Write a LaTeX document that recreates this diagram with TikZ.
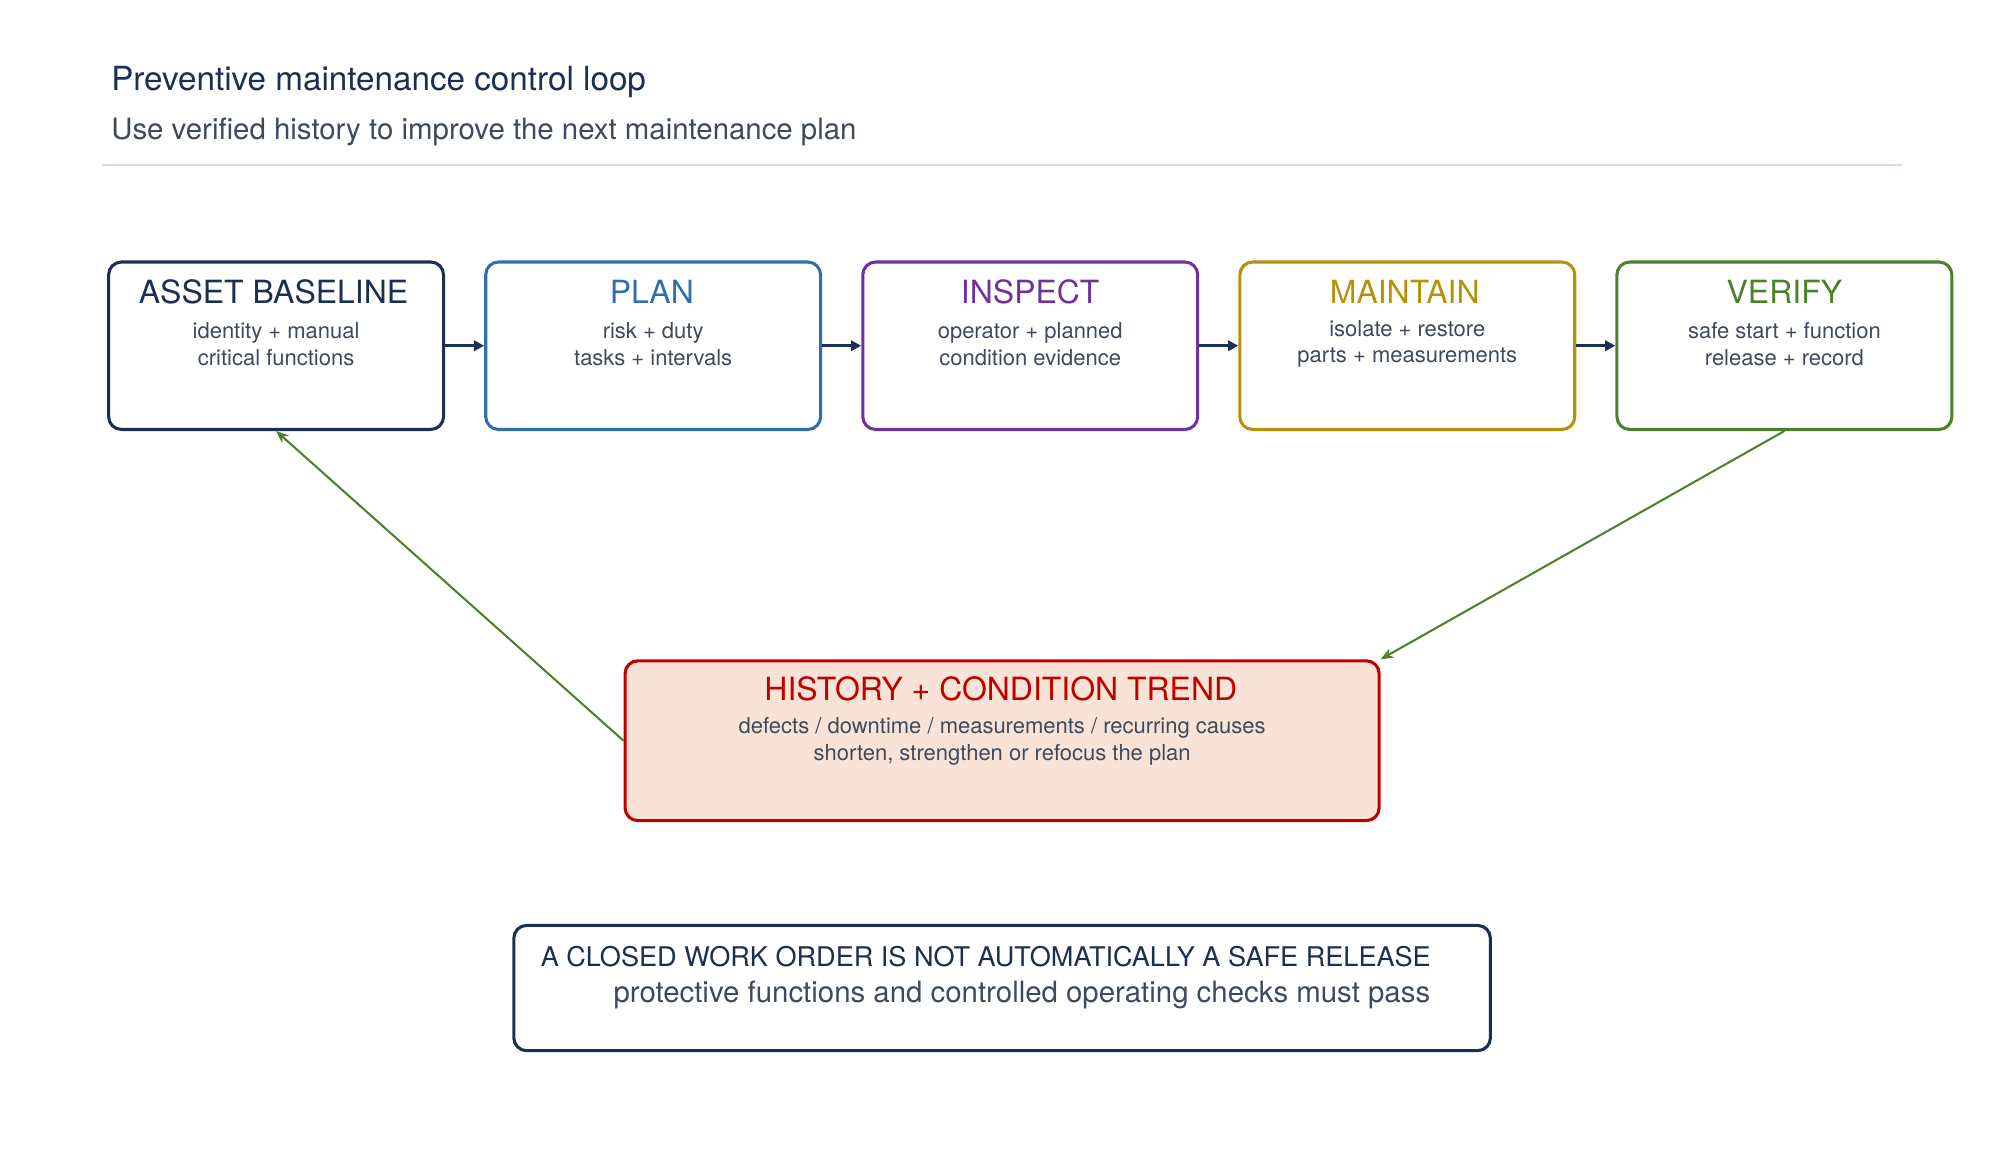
\documentclass[tikz,border=0pt]{standalone}
\usepackage{fontspec}
\setmainfont{TeX Gyre Heros}
\usetikzlibrary{arrows.meta}
\definecolor{navy}{HTML}{1B2F52}
\definecolor{pblue}{HTML}{2F6FB0}
\definecolor{ppurple}{HTML}{7030A0}
\definecolor{pgold}{HTML}{B8900A}
\definecolor{pgreen}{HTML}{4E7F2A}
\definecolor{pred}{HTML}{C00000}
\definecolor{pfill}{HTML}{F9E2D6}
\definecolor{ptext}{HTML}{3E4A5C}
\definecolor{prule}{HTML}{D5DCF2}
\tikzset{
  step/.style={draw=#1,line width=1.2pt,rounded corners=5pt,minimum width=131pt,minimum height=65.5pt},
  head/.style={text=#1,font=\fontsize{12.5}{14}\selectfont},
  sub/.style={text=ptext,font=\fontsize{8.6}{10.5}\selectfont,align=center},
  flow/.style={navy,line width=1pt,-{Triangle[length=4pt,width=4pt]}},
  back/.style={pgreen,line width=0.8pt,-{Stealth[length=5pt,width=4pt]}}
}
\begin{document}
\begin{tikzpicture}[x=0.5pt,y=-0.5pt]
\useasboundingbox (0,0) rectangle (1560,908);
% header
\node[anchor=base west,text=navy,font=\fontsize{13}{15}\selectfont] (title) at (80,71) {Preventive maintenance control loop};
\node[anchor=base west,text=ptext,font=\fontsize{11.5}{14}\selectfont] (subtitle) at (80,109) {Use verified history to improve the next maintenance plan};
\draw[prule,line width=1pt] (80,129) -- (1488,129);
% loop steps
\node[step=navy] (asset) at (216,270.5) {};
\node[step=pblue] (plan) at (511,270.5) {};
\node[step=ppurple] (inspect) at (806,270.5) {};
\node[step=pgold] (maintain) at (1101,270.5) {};
\node[step=pgreen] (verify) at (1396,270.5) {};
\node[head=navy] at (214,228) {ASSET BASELINE};
\node[sub] at (216,269) {identity + manual\\critical functions};
\node[head=pblue] at (510,228) {PLAN};
\node[sub] at (511,269) {risk + duty\\tasks + intervals};
\node[head=ppurple] at (806,228) {INSPECT};
\node[sub] at (806,269) {operator + planned\\condition evidence};
\node[head=pgold] at (1099,228) {MAINTAIN};
\node[sub] at (1101,269) {isolate + restore\\parts + measurements};
\node[head=pgreen] at (1396,228) {VERIFY};
\node[sub] at (1396,269) {safe start + function\\release + record};
\draw[flow] (asset) -- (plan);
\draw[flow] (plan) -- (inspect);
\draw[flow] (inspect) -- (maintain);
\draw[flow] (maintain) -- (verify);
% history
\node[draw=pred,fill=pfill,line width=1.2pt,rounded corners=5pt,minimum width=295pt,minimum height=62.5pt] (history) at (784,579.5) {};
\node[head=pred] at (783,539) {HISTORY + CONDITION TREND};
\node[sub] at (784,580) {defects / downtime / measurements / recurring causes\\shorten, strengthen or refocus the plan};
\draw[back] (verify.south) -- (history.north east);
\draw[back] (history.west) -- (asset.south);
% release note
\node[draw=navy,line width=1.2pt,rounded corners=5pt,minimum width=382pt,minimum height=49pt] (release) at (784,773) {};
\node[anchor=base west,text=navy,font=\fontsize{10.6}{12}\selectfont] at (416,756) {A CLOSED WORK ORDER IS NOT AUTOMATICALLY A SAFE RELEASE};
\node[anchor=base east,text=ptext,font=\fontsize{11.5}{14}\selectfont] at (1126,784) {protective functions and controlled operating checks must pass};
\end{tikzpicture}
\end{document}
